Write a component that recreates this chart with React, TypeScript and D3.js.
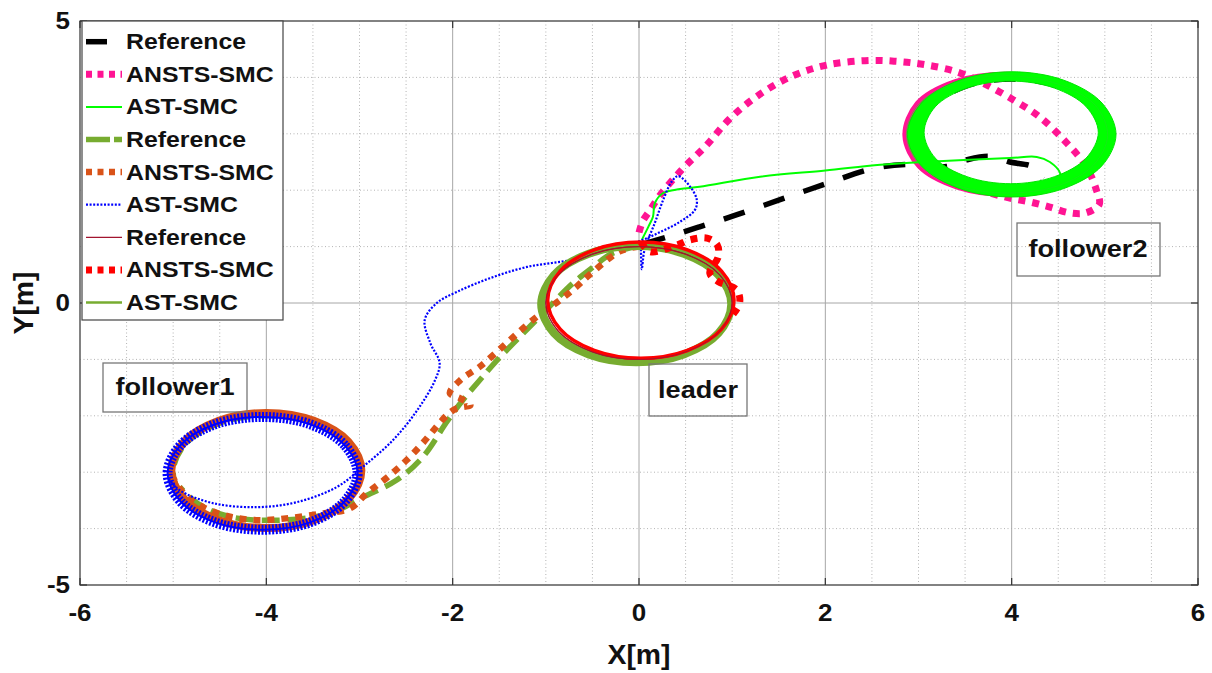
import React from 'react';
import * as d3 from 'd3';

type P = [number, number];

// ---------- axes ----------
const xTicks = [-6, -4, -2, 0, 2, 4, 6];
const yTicks = [-5, 0, 5];
const xMinorTicks = [-5.5, -5, -4.5, -3.5, -3, -2.5, -1.5, -1, -0.5, 0.5, 1, 1.5, 2.5, 3, 3.5, 4.5, 5, 5.5];
const yMinorTicks = [-4, -3, -2, -1, 1, 2, 3, 4];

// ---------- follower2 ----------
const refF2Path: P[] = [[0.05, 1.05], [0.3, 1.17], [0.65, 1.35], [1.06, 1.57], [1.56, 1.86], [2.02, 2.12], [2.5, 2.38], [2.9, 2.46], [3.3, 2.42], [3.52, 2.54], [3.77, 2.6], [3.98, 2.5], [4.23, 2.41], [4.33, 2.2]];
const refF2Loop: P[] = [[5.0, 2.97], [4.87, 3.47], [4.5, 3.84], [4.0, 3.97], [3.5, 3.84], [3.13, 3.47], [3.0, 2.97], [3.13, 2.47], [3.5, 2.1], [4.0, 1.97], [4.5, 2.1], [4.87, 2.47]];
const ansF2Path: P[] = [[0.0, 1.25], [0.04, 1.45], [0.12, 1.65], [0.22, 1.9], [0.36, 2.18], [0.51, 2.45], [0.72, 2.79], [0.97, 3.26], [1.27, 3.67], [1.64, 4.02], [2.02, 4.22], [2.48, 4.3], [2.8, 4.28], [3.09, 4.22], [3.41, 4.1], [3.69, 3.9], [4.02, 3.6], [4.3, 3.3], [4.59, 2.84], [4.8, 2.42], [4.91, 2.0], [4.94, 1.75], [4.8, 1.6], [4.62, 1.6], [4.41, 1.7], [4.2, 1.79], [3.98, 1.86], [3.77, 1.95], [3.5, 2.1]];
const ansF2Loop: P[] = [[5.03, 2.97], [4.9, 3.5], [4.5, 3.88], [3.95, 4.03], [3.4, 3.9], [3.0, 3.52], [2.87, 2.97], [3.02, 2.44], [3.42, 2.08], [3.96, 1.95], [4.5, 2.08], [4.88, 2.45]];
const astF2Path: P[] = [[0.03, 1.12], [0.1, 1.35], [0.15, 1.53], [0.17, 1.77], [0.26, 1.95], [0.44, 2.02], [0.65, 2.06], [1.3, 2.24], [2.0, 2.35], [2.59, 2.45], [3.05, 2.5], [3.98, 2.57], [4.27, 2.59], [4.41, 2.5], [4.52, 2.3], [4.5, 2.15]];
const astF2Outer: P[] = [[5.12, 2.99], [4.97, 3.545], [4.56, 3.95], [4.0, 4.1], [3.44, 3.95], [3.03, 3.545], [2.88, 2.99], [3.03, 2.435], [3.44, 2.03], [4.0, 1.88], [4.56, 2.03], [4.97, 2.435]];
const astF2Inner: P[] = [[4.93, 3.025], [4.8, 3.48], [4.46, 3.81], [3.99, 3.935], [3.52, 3.81], [3.18, 3.48], [3.06, 3.025], [3.18, 2.57], [3.52, 2.24], [3.99, 2.115], [4.46, 2.24], [4.8, 2.57]];

// ---------- follower1 ----------
const refF1Path: P[] = [[0.0, 1.02], [-0.31, 0.86], [-0.49, 0.64], [-0.71, 0.35], [-1.03, -0.18], [-1.28, -0.6], [-1.52, -1.01], [-1.71, -1.37], [-1.89, -1.72], [-2.06, -2.1], [-2.32, -2.73], [-2.6, -3.14], [-2.96, -3.44], [-3.32, -3.73], [-3.85, -3.85], [-4.39, -3.79], [-4.74, -3.55], [-4.93, -3.26]];
const refF1Loop: P[] = [[-3.0, -3.0], [-3.13, -2.5], [-3.5, -2.13], [-4.0, -2.0], [-4.5, -2.13], [-4.87, -2.5], [-5.0, -3.0], [-4.87, -3.5], [-4.5, -3.87], [-4.0, -4.0], [-3.5, -3.87], [-3.13, -3.5]];
const ansF1Path: P[] = [[0.0, 1.0], [-0.2, 0.92], [-0.53, 0.5], [-0.67, 0.29], [-0.85, 0.05], [-1.14, -0.3], [-1.42, -0.71], [-1.71, -1.13], [-1.92, -1.37], [-2.03, -1.6], [-1.92, -1.69], [-1.81, -1.81], [-1.96, -1.87], [-2.05, -1.97], [-2.14, -2.13], [-2.32, -2.48], [-2.49, -2.78], [-2.7, -3.09], [-2.92, -3.37], [-3.1, -3.64], [-3.39, -3.73], [-3.74, -3.81], [-4.07, -3.85], [-4.39, -3.79], [-4.68, -3.62], [-4.89, -3.37], [-5.0, -3.1]];
const ansF1Loop: P[] = [[-2.98, -2.97], [-3.12, -2.46], [-3.49, -2.09], [-4.0, -1.95], [-4.51, -2.09], [-4.88, -2.46], [-5.02, -2.97], [-4.88, -3.48], [-4.51, -3.85], [-4.0, -3.99], [-3.49, -3.85], [-3.12, -3.48]];
const astF1Path: P[] = [[0.02, 1.08], [0.03, 0.6], [0.06, 0.95], [0.17, 1.42], [0.26, 1.83], [0.35, 2.15], [0.42, 2.25], [0.55, 2.06], [0.62, 1.83], [0.6, 1.65], [0.44, 1.44], [0.23, 1.26], [0.01, 1.1], [-0.3, 0.95], [-0.74, 0.76], [-1.2, 0.64], [-1.6, 0.44], [-1.95, 0.2], [-2.17, 0.0], [-2.3, -0.3], [-2.24, -0.71], [-2.14, -1.06], [-2.19, -1.37], [-2.38, -1.9], [-2.64, -2.43], [-2.96, -2.9], [-3.24, -3.26], [-3.67, -3.53], [-4.1, -3.62], [-4.57, -3.55], [-4.93, -3.32], [-5.06, -3.09]];
const astF1Loop: P[] = [[-3.02, -3.02], [-3.16, -2.52], [-3.53, -2.15], [-4.04, -2.02], [-4.55, -2.15], [-4.92, -2.52], [-5.06, -3.02], [-4.92, -3.52], [-4.55, -3.89], [-4.04, -4.02], [-3.53, -3.89], [-3.16, -3.52]];

// ---------- leader ----------
const refLLoop: P[] = [[1.0, 0.0], [0.866, 0.5], [0.5, 0.866], [0.0, 1.0], [-0.5, 0.866], [-0.866, 0.5], [-1.0, 0.0], [-0.866, -0.5], [-0.5, -0.866], [0.0, -1.0], [0.5, -0.866], [0.866, -0.5]];
const ansLPath: P[] = [[0.02, 1.08], [0.12, 0.91], [0.41, 1.03], [0.55, 1.12], [0.73, 1.15], [0.84, 1.03], [0.85, 0.82], [0.76, 0.53], [0.85, 0.38], [1.05, 0.23], [1.08, 0.0], [1.0, -0.22]];
const ansLLoop: P[] = [[1.02, 0.05], [0.886, 0.565], [0.52, 0.942], [0.02, 1.08], [-0.48, 0.942], [-0.846, 0.565], [-0.98, 0.05], [-0.846, -0.465], [-0.48, -0.842], [0.02, -0.98], [0.52, -0.842], [0.886, -0.465]];
const astLLoop: P[] = [[0.99, -0.02], [0.853, 0.495], [0.48, 0.872], [-0.03, 1.01], [-0.54, 0.872], [-0.913, 0.495], [-1.05, -0.02], [-0.913, -0.535], [-0.54, -0.912], [-0.03, -1.05], [0.48, -0.912], [0.853, -0.535]];

const legendLabels = ['Reference', 'ANSTS-SMC', 'AST-SMC', 'Reference', 'ANSTS-SMC', 'AST-SMC', 'Reference', 'ANSTS-SMC', 'AST-SMC'];

type Sty = { stroke: string; w: number; dash?: string };
const styles: Sty[] = [
  { stroke: '#000000', w: 5.5, dash: '22 20' },
  { stroke: '#ff1493', w: 7, dash: '7 7' },
  { stroke: '#00ff00', w: 2 },
  { stroke: '#77ac30', w: 5.5, dash: '18 8' },
  { stroke: '#d95319', w: 6.5, dash: '7 7' },
  { stroke: '#0000ff', w: 2.2, dash: '2 1.6' },
  { stroke: '#a2142f', w: 1.2 },
  { stroke: '#ff0000', w: 7, dash: '7 7' },
  { stroke: '#77ac30', w: 2.5 },
];
const legendDash = ['21 30', '6 5.5', undefined, '24 4', '6 5.5', '2 1.6', undefined, '6 5.5', undefined];

const x = d3.scaleLinear().domain([-6, 6]).range([80, 1198]);
const y = d3.scaleLinear().domain([-5, 5]).range([585, 21]);
const open = d3.line<P>().x(d => x(d[0])).y(d => y(d[1])).curve(d3.curveCatmullRom.alpha(0.5));
const closed = d3.line<P>().x(d => x(d[0])).y(d => y(d[1])).curve(d3.curveCatmullRomClosed.alpha(0.5));

const FONT = '"Liberation Sans", Arial, Helvetica, sans-serif';

function T({ x: tx, y: ty, size, anchor = 'start', children, rotate = 0, sx = 1.13 }: any) {
  return (
    <text
      transform={`translate(${tx},${ty}) rotate(${rotate}) scale(${sx},1)`}
      fontFamily={FONT}
      fontWeight="bold"
      fontSize={size}
      textAnchor={anchor}
      dominantBaseline="central"
      fill="#111"
    >
      {children}
    </text>
  );
}

function Path({ d, s, w, dash, opacity }: { d: string; s: Sty; w?: number; dash?: string | null; opacity?: number }) {
  const da = dash === null ? undefined : dash ?? s.dash;
  return (
    <path d={d} fill="none" stroke={s.stroke} strokeWidth={w ?? s.w} strokeDasharray={da} strokeLinecap="butt" strokeLinejoin="round" opacity={opacity} />
  );
}

export default function App() {
  const [x0, x1] = x.range();
  const [yb, yt] = y.range();
  return (
    <svg width={1212} height={673} style={{ position: 'absolute', left: 0, top: 0, background: '#fff' }}>
      <rect x={0} y={0} width={1212} height={673} fill="#fff" />
      {/* minor grid */}
      {xMinorTicks.map(v => (
        <line key={'xm' + v} x1={x(v)} x2={x(v)} y1={yt} y2={yb} stroke="#b4b4b4" strokeWidth={1} strokeDasharray="1 2.5" />
      ))}
      {yMinorTicks.map(v => (
        <line key={'ym' + v} x1={x0} x2={x1} y1={y(v)} y2={y(v)} stroke="#b4b4b4" strokeWidth={1} strokeDasharray="1 2.5" />
      ))}
      {/* major grid */}
      {xTicks.map(v => (
        <line key={'xg' + v} x1={x(v)} x2={x(v)} y1={yt} y2={yb} stroke="#a6a6a6" strokeWidth={1} />
      ))}
      {yTicks.map(v => (
        <line key={'yg' + v} x1={x0} x2={x1} y1={y(v)} y2={y(v)} stroke="#a6a6a6" strokeWidth={1} />
      ))}

      {/* follower2 */}
      <Path d={open(refF2Path)!} s={styles[0]} />
      <Path d={closed(refF2Loop)!} s={styles[0]} />
      <Path d={open(ansF2Path)!} s={styles[1]} />
      <Path d={closed(ansF2Loop)!} s={styles[1]} w={8} dash={null} />
      <Path d={open(astF2Path)!} s={styles[2]} />
      <path d={closed(astF2Outer)! + closed(astF2Inner)!} fill="#00ff00" fillRule="evenodd" stroke="#00e600" strokeWidth={1} />
      <Path d={closed(ansF2Loop)!} s={{ stroke: '#22dd22', w: 0.8 }} dash={null} opacity={0.7} />

      {/* follower1 */}
      <Path d={open(refF1Path)!} s={styles[3]} />
      <Path d={closed(refF1Loop)!} s={styles[3]} />
      <Path d={open(ansF1Path)!} s={styles[4]} />
      <Path d={closed(ansF1Loop)!} s={styles[4]} w={8} dash={null} />
      <Path d={open(astF1Path)!} s={styles[5]} />
      <Path d={closed(astF1Loop)!} s={styles[5]} w={10} dash="2 1.5" />
      <Path d={closed(astF1Loop)!} s={styles[5]} w={2} dash={null} />

      {/* leader */}
      <Path d={closed(astLLoop)!} s={styles[8]} w={8} />
      <Path d={closed(refLLoop)!} s={styles[6]} />
      <Path d={open(ansLPath)!} s={styles[7]} />
      <Path d={closed(ansLLoop)!} s={styles[7]} w={3.5} dash={null} />
      <Path d={closed(refLLoop)!} s={styles[6]} w={1} />

      {/* axes box */}
      <rect x={x0} y={yt} width={x1 - x0} height={yb - yt} fill="none" stroke="#4d4d4d" strokeWidth={1.2} />
      {xTicks.map(v => (
        <g key={'xt' + v}>
          <line x1={x(v)} x2={x(v)} y1={yb} y2={yb - 7} stroke="#333" strokeWidth={1.2} />
          <line x1={x(v)} x2={x(v)} y1={yt} y2={yt + 7} stroke="#333" strokeWidth={1.2} />
        </g>
      ))}
      {yTicks.map(v => (
        <g key={'yt' + v}>
          <line x1={x0} x2={x0 + 7} y1={y(v)} y2={y(v)} stroke="#333" strokeWidth={1.2} />
          <line x1={x1} x2={x1 - 7} y1={y(v)} y2={y(v)} stroke="#333" strokeWidth={1.2} />
        </g>
      ))}

      {/* tick labels */}
      {xTicks.map(v => (
        <T key={'xl' + v} x={x(v)} y={613} size={23} anchor="middle">{String(v)}</T>
      ))}
      {yTicks.map(v => (
        <T key={'yl' + v} x={70} y={y(v)} size={23} anchor="end">{String(v)}</T>
      ))}
      <T x={639} y={655} size={27} anchor="middle" sx={1.05}>X[m]</T>
      <T x={24} y={303} size={27} anchor="middle" rotate={-90} sx={1.05}>Y[m]</T>

      {/* annotation boxes */}
      <rect x={103} y={363} width={144} height={49} fill="none" stroke="#777" strokeWidth={1.3} />
      <T x={175} y={387} size={24} anchor="middle">follower1</T>
      <rect x={649} y={364} width={98} height={52} fill="none" stroke="#777" strokeWidth={1.3} />
      <T x={698} y={390} size={24} anchor="middle">leader</T>
      <rect x={1017} y={223} width={143} height={53} fill="none" stroke="#777" strokeWidth={1.3} />
      <T x={1088} y={249} size={24} anchor="middle">follower2</T>

      {/* legend */}
      <rect x={82} y={21} width={201} height={299} fill="#fff" stroke="#444" strokeWidth={1.2} />
      {legendLabels.map((lab, i) => {
        const ly = 41.7 + i * 32.6;
        const s = styles[i];
        return (
          <g key={'lg' + i}>
            <line x1={86} x2={122} y1={ly} y2={ly} stroke={s.stroke} strokeWidth={s.w} strokeDasharray={legendDash[i]} />
            <T x={126} y={ly} size={22}>{lab}</T>
          </g>
        );
      })}
    </svg>
  );
}
